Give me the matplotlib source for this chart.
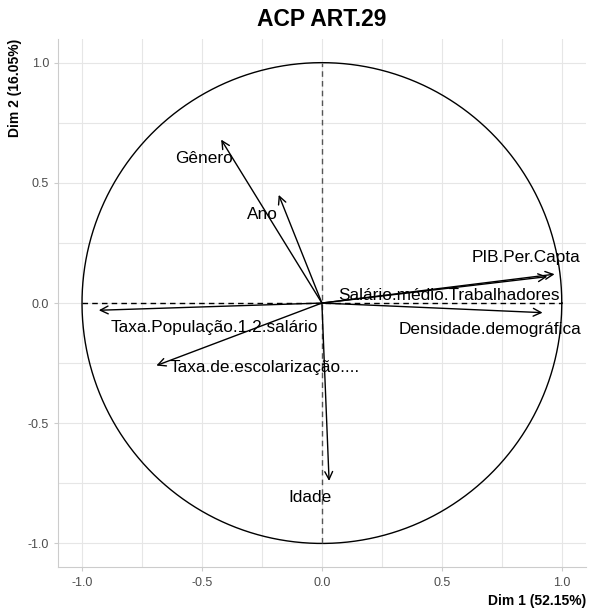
import numpy as np
import matplotlib.pyplot as plt

plt.rcParams['font.family'] = ['Liberation Sans', 'DejaVu Sans']

# coordenadas das variaveis (Dim 1, Dim 2)
variaveis = ["Gênero", "Ano", "PIB.Per.Capta", "Salário.médio.Trabalhadores",
             "Densidade.demográfica", "Taxa.População.1.2.salário",
             "Taxa.de.escolarização....", "Idade"]
dim1 = [-0.42, -0.18, 0.97, 0.94, 0.92, -0.93, -0.69, 0.03]
dim2 = [0.68, 0.45, 0.12, 0.11, -0.04, -0.03, -0.26, -0.74]
# posicao dos rotulos (repel)
lab_x = [-0.49, -0.25, 0.85, 0.53, 0.70, -0.45, -0.24, -0.05]
lab_y = [0.60, 0.37, 0.19, 0.03, -0.11, -0.10, -0.27, -0.81]

fig = plt.figure(figsize=(5.89, 6.10), dpi=100)
ax = fig.add_axes([0.0985, 0.0697, 0.896, 0.867])

# grade
for v in np.arange(-1.0, 1.01, 0.25):
    ax.axvline(v, color='#e6e6e6', lw=0.8, zorder=0)
    ax.axhline(v, color='#e6e6e6', lw=0.8, zorder=0)

# circulo
t = np.linspace(0, 2 * np.pi, 400)
ax.plot(np.cos(t), np.sin(t), color='black', lw=1.0)
ax.plot([-1, 1], [0, 0], color='black', lw=1.0, ls=(0, (4, 3)))
ax.plot([0, 0], [-1, 1], color='#555555', lw=1.0, ls=(0, (4, 3)))

for i in range(len(variaveis)):
    ax.annotate("", xy=(dim1[i], dim2[i]), xytext=(0, 0),
                arrowprops=dict(arrowstyle='->', color='black', lw=1.0,
                                shrinkA=0, shrinkB=0, mutation_scale=14))
    ax.text(lab_x[i], lab_y[i], variaveis[i], ha='center', va='center',
            fontsize=12.4, color='black')

ax.set_xlim(-1.1, 1.1)
ax.set_ylim(-1.1, 1.1)
ax.set_xticks([-1.0, -0.5, 0.0, 0.5, 1.0])
ax.set_yticks([-1.0, -0.5, 0.0, 0.5, 1.0])
ax.set_xticklabels(["-1.0", "-0.5", "0.0", "0.5", "1.0"])
ax.set_yticklabels(["-1.0", "-0.5", "0.0", "0.5", "1.0"])
ax.tick_params(colors='#4d4d4d', labelsize=9, length=3, color='#cccccc')
for s in ['top', 'right']:
    ax.spines[s].set_visible(False)
for s in ['left', 'bottom']:
    ax.spines[s].set_color('#cccccc')

ax.set_xlabel("Dim 1 (52.15%)", fontsize=10, fontweight='bold', loc='right')
ax.set_ylabel("Dim 2 (16.05%)", fontsize=10, fontweight='bold', loc='top')
ax.set_title("ACP ART.29", fontsize=16.5, fontweight='bold', pad=9)

fig.savefig("out.png", dpi=100)
